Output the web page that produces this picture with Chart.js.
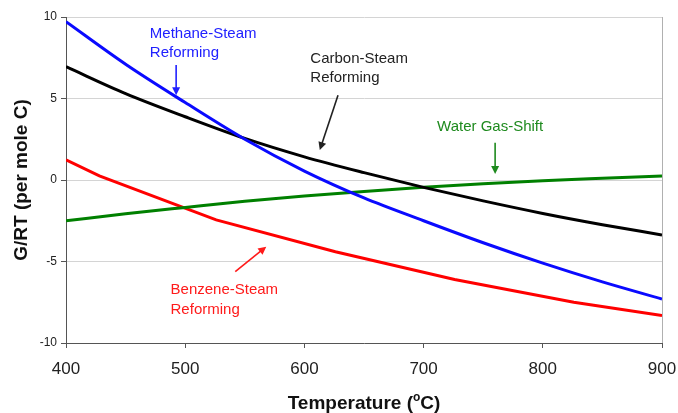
<!DOCTYPE html>
<html>
<head>
<meta charset="utf-8">
<script src="https://cdn.jsdelivr.net/npm/chart.js@4.4.0/dist/chart.umd.min.js"></script>
<style>
  html, body { margin: 0; padding: 0; background: #fff; }
  #wrap { width: 678px; height: 413px; }
</style>
</head>
<body>
<div id="wrap"><canvas id="myChart"></canvas></div>
<script>
"use strict";

// temperatures (C) for the smooth curves
const temps = [400, 450, 500, 550, 600, 650, 700, 750, 800, 850, 900];
const methane = [9.71, 7.1, 4.75, 2.5, 0.55, -1.1, -2.5, -3.85, -5.1, -6.25, -7.3];
const carbon = [6.95, 5.3, 3.88, 2.55, 1.42, 0.45, -0.45, -1.28, -2.05, -2.74, -3.37];
const waterGas = [-2.5, -2.07, -1.68, -1.3, -0.98, -0.7, -0.45, -0.23, -0.04, 0.11, 0.25];

// benzene curve is made of straight pieces
const benzeneTemps = [400, 428, 526, 626, 726, 826, 900];
const benzene = [1.23, 0.25, -2.45, -4.4, -6.1, -7.5, -8.32];

const xTicks = [400, 500, 600, 700, 800, 900];
const yTicks = [-10, -5, 0, 5, 10];

// labels with arrows, anchored in data units
const notes = [
  { lines: ["Methane-Steam", "Reforming"], color: "#2020ff", at: [470.3, 8.99], arrow: [[492.4, 7.05], [492.4, 5.2]] },
  { lines: ["Carbon-Steam", "Reforming"], color: "#222222", at: [605, 7.46], arrow: [[628.2, 5.2], [612.9, 1.84]] },
  { lines: ["Water Gas-Shift"], color: "#1e8a1e", at: [711.3, 3.23], arrow: [[760, 2.29], [760, 0.37]] },
  { lines: ["Benzene-Steam", "Reforming"], color: "#ff1a1a", at: [487.7, -6.75], arrow: [[542, -5.62], [568, -4.09]] },
];

const pairs = (xs, ys) => xs.map((x, i) => ({ x: x, y: ys[i] }));

const annotate = {
  id: "annotate",
  afterDatasetsDraw(chart) {
    const ctx = chart.ctx;
    const xs = chart.scales.x;
    const ys = chart.scales.y;
    const area = chart.chartArea;

    // right border of the plot
    ctx.save();
    ctx.strokeStyle = "#b0b0b0";
    ctx.lineWidth = 1;
    ctx.beginPath();
    ctx.moveTo(area.right + 0.5, area.top);
    ctx.lineTo(area.right + 0.5, area.bottom);
    ctx.stroke();

    notes.forEach(function (n) {
      ctx.fillStyle = n.color;
      ctx.strokeStyle = n.color;
      ctx.font = "15px 'Liberation Sans', Arial, sans-serif";
      ctx.textAlign = "left";
      ctx.textBaseline = "middle";
      const tx = xs.getPixelForValue(n.at[0]);
      const ty = ys.getPixelForValue(n.at[1]);
      n.lines.forEach(function (line, i) {
        ctx.fillText(line, tx, ty + i * 19.5);
      });

      const x1 = xs.getPixelForValue(n.arrow[0][0]);
      const y1 = ys.getPixelForValue(n.arrow[0][1]);
      const x2 = xs.getPixelForValue(n.arrow[1][0]);
      const y2 = ys.getPixelForValue(n.arrow[1][1]);
      const ang = Math.atan2(y2 - y1, x2 - x1);
      const head = 8;
      ctx.lineWidth = 1.6;
      ctx.beginPath();
      ctx.moveTo(x1, y1);
      ctx.lineTo(x2 - Math.cos(ang) * head * 0.8, y2 - Math.sin(ang) * head * 0.8);
      ctx.stroke();
      ctx.beginPath();
      ctx.moveTo(x2, y2);
      ctx.lineTo(x2 - head * Math.cos(ang) + 4 * Math.sin(ang), y2 - head * Math.sin(ang) - 4 * Math.cos(ang));
      ctx.lineTo(x2 - head * Math.cos(ang) - 4 * Math.sin(ang), y2 - head * Math.sin(ang) + 4 * Math.cos(ang));
      ctx.closePath();
      ctx.fill();
    });

    // x axis title with superscript o
    ctx.fillStyle = "#111";
    ctx.textBaseline = "alphabetic";
    ctx.textAlign = "left";
    const big = "bold 19px 'Liberation Sans', Arial, sans-serif";
    const small = "bold 12px 'Liberation Sans', Arial, sans-serif";
    ctx.font = big;
    const w1 = ctx.measureText("Temperature (").width;
    const w3 = ctx.measureText("C)").width;
    ctx.font = small;
    const w2 = ctx.measureText("o").width;
    const cx = (area.left + area.right) / 2;
    const base = chart.height - 4;
    let x = cx - (w1 + w2 + w3) / 2;
    ctx.font = big;
    ctx.fillText("Temperature (", x, base);
    x += w1;
    ctx.font = small;
    ctx.fillText("o", x, base - 8);
    x += w2;
    ctx.font = big;
    ctx.fillText("C)", x, base);
    ctx.restore();
  },
};

const ctx = document.getElementById("myChart");

new Chart(ctx, {
  type: "line",
  data: {
    datasets: [
      { label: "Methane-Steam Reforming", data: pairs(temps, methane), borderColor: "#0a0aff", cubicInterpolationMode: "monotone" },
      { label: "Carbon-Steam Reforming", data: pairs(temps, carbon), borderColor: "#000000", cubicInterpolationMode: "monotone" },
      { label: "Water Gas-Shift", data: pairs(temps, waterGas), borderColor: "#008000", cubicInterpolationMode: "monotone" },
      { label: "Benzene-Steam Reforming", data: pairs(benzeneTemps, benzene), borderColor: "#ff0000", tension: 0 },
    ],
  },
  options: {
    responsive: true,
    maintainAspectRatio: false,
    animation: false,
    layout: { padding: { left: 0, right: 16, top: 17, bottom: 0 } },
    elements: {
      point: { radius: 0 },
      line: { borderWidth: 3 },
    },
    plugins: {
      legend: { display: false },
      tooltip: { enabled: false },
    },
    scales: {
      x: {
        type: "linear",
        min: 400,
        max: 900,
        afterBuildTicks: function (scale) {
          scale.ticks = xTicks.map((v) => ({ value: v }));
        },
        afterFit: function (scale) {
          scale.height = 70;
          scale.paddingLeft = 0;
          scale.paddingRight = 0;
        },
        border: { color: "#555", width: 1 },
        grid: { drawOnChartArea: false, tickLength: 5, tickColor: "#555" },
        ticks: {
          color: "#222",
          padding: 11,
          font: { family: "'Liberation Sans', Arial, sans-serif", size: 17 },
        },
      },
      y: {
        min: -10,
        max: 10,
        afterBuildTicks: function (scale) {
          scale.ticks = yTicks.map((v) => ({ value: v }));
        },
        afterFit: function (scale) {
          scale.width = 66;
          scale.paddingTop = 0;
          scale.paddingBottom = 0;
        },
        border: { color: "#555", width: 1 },
        grid: {
          color: "#d4d4d4",
          lineWidth: 1,
          tickLength: 5,
          tickColor: "#555",
        },
        ticks: {
          color: "#222",
          padding: 4,
          font: { family: "'Liberation Sans', Arial, sans-serif", size: 12 },
        },
        title: {
          display: true,
          text: "G/RT (per mole C)",
          color: "#111",
          padding: { top: 10, bottom: 0 },
          font: { family: "'Liberation Sans', Arial, sans-serif", size: 19, weight: "bold" },
        },
      },
    },
  },
  plugins: [annotate],
});
</script>
</body>
</html>
